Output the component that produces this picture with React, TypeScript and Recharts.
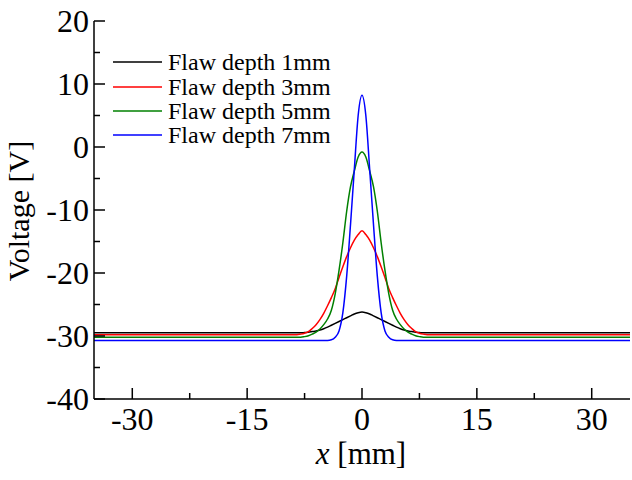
import React from "react"
import { Label, Line, LineChart, XAxis, YAxis } from "recharts"

const font = '"Liberation Serif", "Times New Roman", serif'

// x positions along the scan [mm]
const positions = [
  -35, -10, -9.5, -9, -8.5, -8, -7.5, -7, -6.5, -6, -5.5, -5, -4.5, -4, -3.5,
  -3, -2.5, -2, -1.5, -1, -0.5, 0, 0.5, 1, 1.5, 2, 2.5, 3, 3.5, 4, 4.5, 5, 5.5,
  6, 6.5, 7, 7.5, 8, 8.5, 9, 9.5, 10, 35
]

// voltage [V]
const depth1 = [
  -29.5, -29.5, -29.5, -29.5, -29.5, -29.5, -29.45, -29.4, -29.3, -29.2, -29.05,
  -28.85, -28.6, -28.3, -28.0, -27.7, -27.4, -27.1, -26.8, -26.5, -26.3, -26.2,
  -26.3, -26.5, -26.8, -27.1, -27.4, -27.7, -28.0, -28.3, -28.6, -28.85, -29.05,
  -29.2, -29.3, -29.4, -29.45, -29.5, -29.5, -29.5, -29.5, -29.5, -29.5
]
const depth3 = [
  -29.8, -29.8, -29.8, -29.8, -29.8, -29.7, -29.55, -29.3, -28.8, -28.2, -27.4,
  -26.4, -25.2, -23.9, -22.5, -20.7, -19.0, -17.4, -16.0, -14.8, -13.9, -13.3,
  -13.9, -14.8, -16.0, -17.4, -19.0, -20.7, -22.5, -23.9, -25.2, -26.4, -27.4,
  -28.2, -28.8, -29.3, -29.55, -29.7, -29.8, -29.8, -29.8, -29.8, -29.8
]
const depth5 = [
  -30.2, -30.2, -30.2, -30.2, -30.2, -30.2, -30.1, -29.95, -29.7, -29.4, -28.9,
  -28.2, -27.3, -25.9, -23.3, -19.6, -15.2, -10.2, -6.3, -3.8, -1.6, -0.8,
  -1.6, -3.8, -6.3, -10.2, -15.2, -19.6, -23.3, -25.9, -27.3, -28.2, -28.9,
  -29.4, -29.7, -29.95, -30.1, -30.2, -30.2, -30.2, -30.2, -30.2, -30.2
]
const depth7 = [
  -30.7, -30.7, -30.7, -30.7, -30.7, -30.7, -30.7, -30.7, -30.7, -30.7, -30.7,
  -30.7, -30.7, -30.6, -30.2, -29.2, -26.3, -20.5, -12.3, -3.5, 5.0, 8.2,
  5.0, -3.5, -12.3, -20.5, -26.3, -29.2, -30.2, -30.6, -30.7, -30.7, -30.7,
  -30.7, -30.7, -30.7, -30.7, -30.7, -30.7, -30.7, -30.7, -30.7, -30.7
]

const seriesNames = ["Flaw depth 1mm", "Flaw depth 3mm", "Flaw depth 5mm", "Flaw depth 7mm"]
const seriesColors = ["#000000", "#ff0000", "#008000", "#0000ff"]
const seriesValues = [depth1, depth3, depth5, depth7]

const xMajor = [-30, -15, 0, 15, 30]
const xMinor = [-22.5, -7.5, 7.5, 22.5]
const yMajor = [-40, -30, -20, -10, 0, 10, 20]
const yMinor = [-35, -25, -15, -5, 5, 15]

const data = positions.map((x, i) => {
  const row: any = { x }
  seriesNames.forEach((name, s) => {
    row[name] = seriesValues[s][i]
  })
  return row
})

const MAJOR = 11
const MINOR = 6

function BottomTick(props: any) {
  const { x, y, payload } = props
  const major = xMajor.includes(payload.value)
  return (
    <g>
      <line x1={x} x2={x} y1={y} y2={y - (major ? MAJOR : MINOR)} stroke="#000" strokeWidth={1.5} />
      {major && (
        <text x={x} y={y + 31} textAnchor="middle" fontFamily={font} fontSize={32} fill="#000">
          {payload.value}
        </text>
      )}
    </g>
  )
}

function TopTick(props: any) {
  const { x, y, payload } = props
  const major = xMajor.includes(payload.value)
  return <line x1={x} x2={x} y1={y} y2={y + (major ? MAJOR : MINOR)} stroke="#000" strokeWidth={1.5} />
}

function LeftTick(props: any) {
  const { x, y, payload } = props
  const major = yMajor.includes(payload.value)
  return (
    <g>
      <line x1={x} x2={x + (major ? MAJOR : MINOR)} y1={y} y2={y} stroke="#000" strokeWidth={1.5} />
      {major && (
        <text x={x - 5} y={y} dy="0.35em" textAnchor="end" fontFamily={font} fontSize={32} fill="#000">
          {payload.value}
        </text>
      )}
    </g>
  )
}

function RightTick(props: any) {
  const { x, y, payload } = props
  const major = yMajor.includes(payload.value)
  return <line x1={x} x2={x - (major ? MAJOR : MINOR)} y1={y} y2={y} stroke="#000" strokeWidth={1.5} />
}

const axisLine = { stroke: "#000", strokeWidth: 1.5 }

export default function App() {
  return (
    <div style={{ position: "absolute", left: 0, top: 0, width: 632, height: 480, background: "#fff" }}>
      <LineChart width={632} height={480} data={data} margin={{ top: 21, right: 2, bottom: 0, left: 0 }}>
        <XAxis
          dataKey="x"
          type="number"
          domain={[-35, 35]}
          allowDataOverflow
          ticks={[...xMajor, ...xMinor]}
          interval={0}
          tickSize={0}
          tickMargin={0}
          tickLine={false}
          axisLine={axisLine}
          tick={(p: any) => <BottomTick {...p} />}
          height={81}>
          <Label
            content={() => (
              <text x={361} y={464} textAnchor="middle" fontFamily={font} fontSize={31} fill="#000">
                <tspan fontStyle="italic">x</tspan> [mm]
              </text>
            )}
          />
        </XAxis>
        <XAxis
          xAxisId="top"
          orientation="top"
          dataKey="x"
          type="number"
          domain={[-35, 35]}
          allowDataOverflow
          ticks={[...xMajor, ...xMinor]}
          interval={0}
          tickSize={0}
          tickMargin={0}
          tickLine={false}
          axisLine={axisLine}
          tick={(p: any) => <TopTick {...p} />}
          height={0}
        />
        <YAxis
          type="number"
          domain={[-40, 20]}
          allowDataOverflow
          ticks={[...yMajor, ...yMinor]}
          interval={0}
          tickSize={0}
          tickMargin={0}
          tickLine={false}
          axisLine={axisLine}
          tick={(p: any) => <LeftTick {...p} />}
          width={94}>
          <Label
            content={() => (
              <text
                x={29}
                y={211}
                transform="rotate(-90 29 211)"
                textAnchor="middle"
                fontFamily={font}
                fontSize={30}
                fill="#000">
                Voltage [V]
              </text>
            )}
          />
        </YAxis>
        <YAxis
          yAxisId="right"
          orientation="right"
          type="number"
          domain={[-40, 20]}
          allowDataOverflow
          ticks={[...yMajor, ...yMinor]}
          interval={0}
          tickSize={0}
          tickMargin={0}
          tickLine={false}
          axisLine={axisLine}
          tick={(p: any) => <RightTick {...p} />}
          width={0}
        />
        {seriesNames.map((name, s) => (
          <Line
            key={name}
            dataKey={name}
            type="monotone"
            stroke={seriesColors[s]}
            strokeWidth={1.5}
            dot={false}
            isAnimationActive={false}
          />
        ))}
      </LineChart>
      <div
        style={{
          position: "absolute",
          left: 113,
          top: 50,
          fontFamily: font,
          fontSize: 24,
          color: "#000"
        }}>
        {seriesNames.map((name, s) => (
          <div key={name} style={{ display: "flex", alignItems: "center", height: 24.4 }}>
            <svg width={49} height={4} style={{ marginRight: 6 }}>
              <line x1={0} x2={49} y1={2} y2={2} stroke={seriesColors[s]} strokeWidth={1.5} />
            </svg>
            <span style={{ lineHeight: "24px" }}>{name}</span>
          </div>
        ))}
      </div>
    </div>
  )
}
